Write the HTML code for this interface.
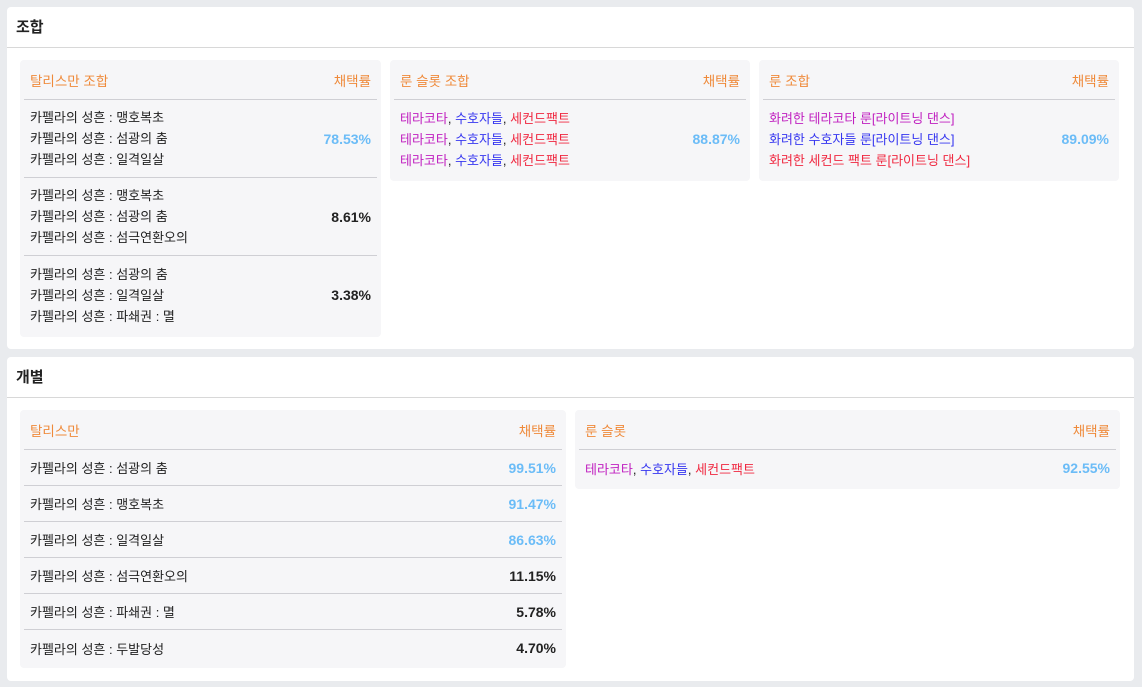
<!DOCTYPE html>
<html><head><meta charset="utf-8"><style>
*{box-sizing:border-box;margin:0;padding:0}
body{width:1142px;height:687px;background:#e9ebee;font-family:"Liberation Sans","Noto Sans CJK KR",sans-serif;font-size:13px;color:#222;position:relative;overflow:hidden}
.card{position:absolute;left:7px;width:1127px;background:#fff;border-radius:4px}
.card h2{font-size:15px;font-weight:bold;height:41px;line-height:42px;padding-left:9px;border-bottom:1px solid #d8d8d8;color:#222}
.p{position:absolute;background:#f6f6f8;border-radius:4px;padding:0 4px}
.hd{height:40px;border-bottom:1px solid #cfcfd4;display:flex;justify-content:space-between;align-items:center;padding:4px 6px 0 6px;color:#ef8a3a;font-size:13.5px;line-height:20px}
.hd span{display:block;height:20px}
.row{display:flex;justify-content:space-between;align-items:center;padding:0 6px;border-bottom:1px solid #cfcfd4}
.row:last-child{border-bottom:none}
.c .row{height:78px}
.c .lines div{line-height:21px}
.i .row{height:36px}
.v{font-weight:bold;font-size:14px}
.b{color:#6bbcf7}
.m{color:#c020c0}.u{color:#3636f0}.r{color:#f02840}
</style></head><body>
<div class="card" style="top:7px;height:342px"><h2>조합</h2></div>
<div class="card" style="top:357px;height:324px"><h2>개별</h2></div>

<div class="p c" style="left:20px;top:60px;width:361px;height:277px">
<div class="hd"><span>탈리스만 조합</span><span>채택률</span></div>
<div class="row"><div class="lines"><div>카펠라의 성흔 : 맹호복초</div><div>카펠라의 성흔 : 섬광의 춤</div><div>카펠라의 성흔 : 일격일살</div></div><span class="v b">78.53%</span></div>
<div class="row"><div class="lines"><div>카펠라의 성흔 : 맹호복초</div><div>카펠라의 성흔 : 섬광의 춤</div><div>카펠라의 성흔 : 섬극연환오의</div></div><span class="v">8.61%</span></div>
<div class="row"><div class="lines"><div>카펠라의 성흔 : 섬광의 춤</div><div>카펠라의 성흔 : 일격일살</div><div>카펠라의 성흔 : 파쇄권 : 멸</div></div><span class="v">3.38%</span></div>
</div>

<div class="p c" style="left:390px;top:60px;width:360px;height:121px">
<div class="hd"><span>룬 슬롯 조합</span><span>채택률</span></div>
<div class="row"><div class="lines"><div><span class="m">테라코타</span>, <span class="u">수호자들</span>, <span class="r">세컨드팩트</span></div><div><span class="m">테라코타</span>, <span class="u">수호자들</span>, <span class="r">세컨드팩트</span></div><div><span class="m">테라코타</span>, <span class="u">수호자들</span>, <span class="r">세컨드팩트</span></div></div><span class="v b">88.87%</span></div>
</div>

<div class="p c" style="left:759px;top:60px;width:360px;height:121px">
<div class="hd"><span>룬 조합</span><span>채택률</span></div>
<div class="row"><div class="lines"><div class="m">화려한 테라코타 룬[라이트닝 댄스]</div><div class="u">화려한 수호자들 룬[라이트닝 댄스]</div><div class="r">화려한 세컨드 팩트 룬[라이트닝 댄스]</div></div><span class="v b">89.09%</span></div>
</div>

<div class="p i" style="left:20px;top:410px;width:546px;height:258px">
<div class="hd"><span>탈리스만</span><span>채택률</span></div>
<div class="row"><span>카펠라의 성흔 : 섬광의 춤</span><span class="v b">99.51%</span></div>
<div class="row"><span>카펠라의 성흔 : 맹호복초</span><span class="v b">91.47%</span></div>
<div class="row"><span>카펠라의 성흔 : 일격일살</span><span class="v b">86.63%</span></div>
<div class="row"><span>카펠라의 성흔 : 섬극연환오의</span><span class="v">11.15%</span></div>
<div class="row"><span>카펠라의 성흔 : 파쇄권 : 멸</span><span class="v">5.78%</span></div>
<div class="row"><span>카펠라의 성흔 : 두발당성</span><span class="v">4.70%</span></div>
</div>

<div class="p i" style="left:575px;top:410px;width:545px;height:79px">
<div class="hd"><span>룬 슬롯</span><span>채택률</span></div>
<div class="row"><span><span class="m">테라코타</span>, <span class="u">수호자들</span>, <span class="r">세컨드팩트</span></span><span class="v b">92.55%</span></div>
</div>
</body></html>
